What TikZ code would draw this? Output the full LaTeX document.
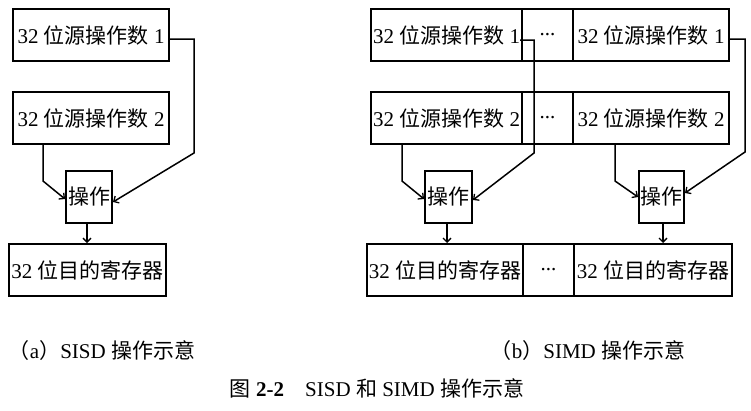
\documentclass[tikz,border=0pt]{standalone}
\usepackage{fontspec}
\setmainfont{Liberation Serif}
\newfontfamily\cjk{Noto Sans CJK SC}
\usetikzlibrary{arrows.meta}
\newcommand\zh[1]{{\cjk #1}}
\begin{document}
\begin{tikzpicture}[x=1pt,y=-1pt,
  cell/.style={draw, line width=2pt, inner sep=0pt, minimum height=52pt, font=\fontsize{21}{24}\selectfont},
  conn/.style={line width=1.5pt, -{Straight Barb[length=4pt,width=8pt,line width=1.3pt]}},
  captxt/.style={inner sep=0pt, font=\fontsize{21}{24}\selectfont}]
\useasboundingbox (0,0) rectangle (751,410);
% (a) SISD
\node[cell, minimum width=156pt] (a1) at (91,35) {32 \zh{位源操作数} 1};
\node[cell, minimum width=156pt] (a2) at (91,118) {32 \zh{位源操作数} 2};
\node[cell, minimum width=46pt] (aop) at (89,197) {\zh{操作}};
\node[cell, minimum width=157pt] (ad) at (87.5,270) {32 \zh{位目的寄存器}};
\draw[conn] ([yshift=-4pt]a1.east) -- ++(24,0) -- ++(0,114) -- ([yshift=-5pt]aop.east);
\draw[conn] ([xshift=-48pt]a2.south) -- ++(0,36) -- ([yshift=-2pt]aop.west);
\draw[conn] ([xshift=-2pt]aop.south) -- ([xshift=-2pt]aop.south |- ad.north);
% (b) SIMD
\node[cell, minimum width=151pt] (b11) at (446.5,35) {32 \zh{位源操作数} 1};
\node[cell, minimum width=51pt] (b1d) at (547.5,35) {...};
\node[cell, minimum width=156pt] (b12) at (651,35) {32 \zh{位源操作数} 1};
\node[cell, minimum width=151pt] (b21) at (446.5,118) {32 \zh{位源操作数} 2};
\node[cell, minimum width=51pt] (b2d) at (547.5,118) {...};
\node[cell, minimum width=156pt] (b22) at (651,118) {32 \zh{位源操作数} 2};
\node[cell, minimum width=47pt] (bop1) at (448.5,197) {\zh{操作}};
\node[cell, minimum width=45pt] (bop2) at (661.5,197) {\zh{操作}};
\node[cell, minimum width=156pt] (b31) at (445,270) {32 \zh{位目的寄存器}};
\node[cell, minimum width=51pt] (b3d) at (548.5,270) {...};
\node[cell, minimum width=158pt] (b33) at (653,270) {32 \zh{位目的寄存器}};
\draw[conn] ([xshift=-3pt,yshift=-5pt]b11.east) -- ++(14,0) -- ++(0,113) -- ([yshift=-3pt]bop1.east);
\draw[conn] ([xshift=-44.5pt]b21.south) -- ++(0,36) -- ([yshift=-2pt]bop1.west);
\draw[conn] ([yshift=-4pt]b12.east) -- ++(15,0) -- ++(0,113) -- ([yshift=4pt]bop2.east);
\draw[conn] ([xshift=-36pt]b22.south) -- ++(0,36) -- (bop2.west);
\draw[conn] ([xshift=-1.5pt]bop1.south) -- ([xshift=-1.5pt]bop1.south |- b31.north);
\draw[conn] ([xshift=1.5pt]bop2.south) -- ([xshift=1.5pt]bop2.south |- b33.north);
% captions
\node[captxt] (capa) at (102,351) {\zh{（}a\zh{）}SISD \zh{操作示意}};
\node[captxt] (capb) at (588,351) {\zh{（}b\zh{）}SIMD \zh{操作示意}};
\node[captxt] (capf) at (377,388) {\zh{图} \textbf{2-2}\quad SISD \zh{和} SIMD \zh{操作示意}};
\end{tikzpicture}
\end{document}
